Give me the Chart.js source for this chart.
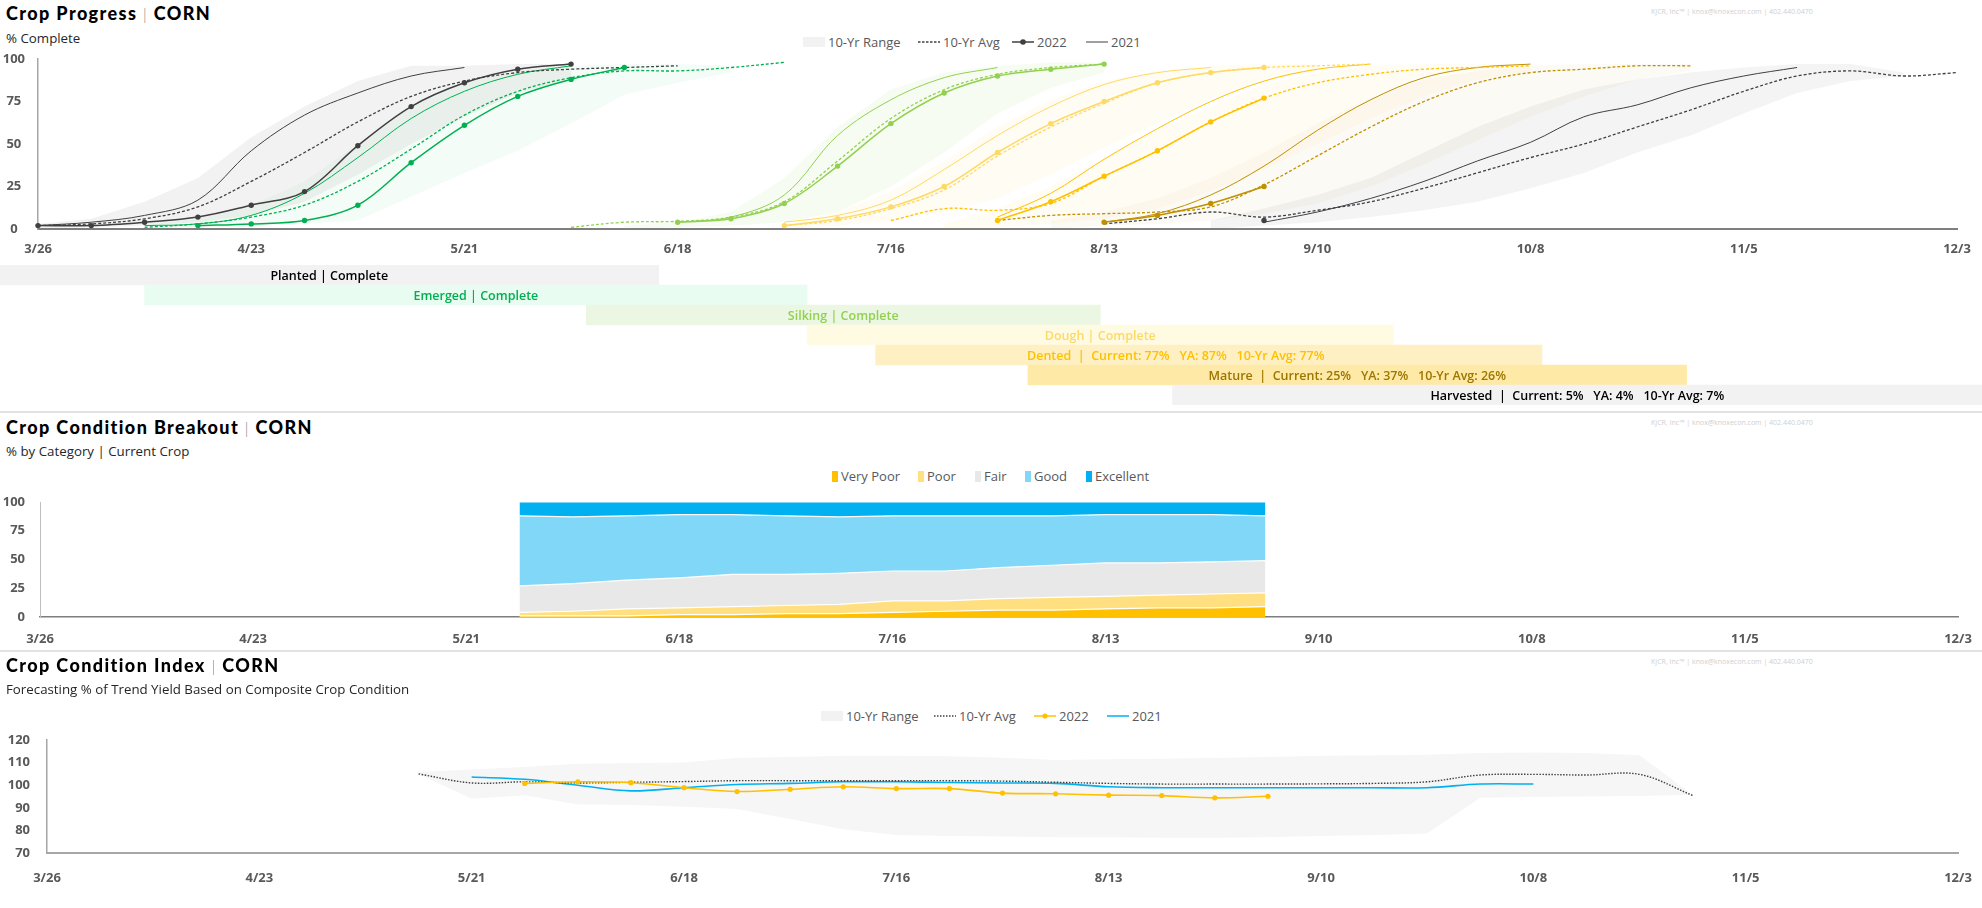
<!DOCTYPE html>
<html>
<head>
<meta charset="utf-8">
<script src="https://cdn.jsdelivr.net/npm/chart.js@4.4.1/dist/chart.umd.min.js"></script>
<style>
html, body { margin: 0; padding: 0; background: #fff; }
#page { position: relative; width: 1982px; height: 908px; overflow: hidden; font-family: "Open Sans", sans-serif; }
canvas { position: absolute; left: 0; }
.title { position: absolute; left: 6px; font-family: Lato, sans-serif; font-weight: 900; font-size: 18px; letter-spacing: 1.4px; line-height: 20px; color: #000; white-space: nowrap; }
.title .sep { font-weight: 300; color: #7f7f7f; font-size: 15px; }
.sub { position: absolute; left: 6px; font-size: 13.3px; line-height: 16px; color: #262626; white-space: nowrap; }
.mark { position: absolute; left: 1651px; font-size: 7px; line-height: 10px; color: #cfcfcf; white-space: nowrap; }
.rule { position: absolute; left: 0; width: 1982px; height: 2px; background: #e2e2e2; }
.lg { position: absolute; display: flex; align-items: center; font-size: 13px; line-height: 16px; color: #595959; white-space: nowrap; }
.lg svg { margin-right: 3px; }
</style>
</head>
<body>
<div id="page">
  <div class="title" style="top:3px">Crop Progress <span class="sep">|</span> CORN</div>
  <div class="sub" style="top:30px">% Complete</div>
  <div class="mark" style="top:7px">KJCR, Inc™ | knox@knoxecon.com | 402.440.0470</div>

  <div class="lg" style="left:803px;top:34px"><svg width="22" height="10"><rect width="22" height="10" fill="#f2f2f2"/></svg>10-Yr Range</div>
  <div class="lg" style="left:918px;top:34px"><svg width="22" height="4"><line x1="0" y1="2" x2="22" y2="2" stroke="#404040" stroke-width="1.3" stroke-dasharray="2.5,1.5"/></svg>10-Yr Avg</div>
  <div class="lg" style="left:1012px;top:34px"><svg width="22" height="8"><line x1="0" y1="4" x2="22" y2="4" stroke="#404040" stroke-width="1.5"/><circle cx="11" cy="4" r="2.8" fill="#404040"/></svg>2022</div>
  <div class="lg" style="left:1086px;top:34px"><svg width="22" height="4"><line x1="0" y1="2" x2="22" y2="2" stroke="#404040" stroke-width="1"/></svg>2021</div>

  <canvas id="progress" width="1982" height="222" style="top:45px;width:1982px;height:222px"></canvas>
  <canvas id="phases" width="1982" height="140" style="top:265px;width:1982px;height:140px"></canvas>

  <div class="rule" style="top:411px"></div>
  <div class="title" style="top:417px">Crop Condition Breakout <span class="sep">|</span> CORN</div>
  <div class="sub" style="top:443px">% by Category | Current Crop</div>
  <div class="mark" style="top:418px">KJCR, Inc™ | knox@knoxecon.com | 402.440.0470</div>

  <div class="lg" style="left:832px;top:468px"><svg width="6" height="11"><rect width="6" height="11" fill="#ffc000"/></svg>Very Poor</div>
  <div class="lg" style="left:918px;top:468px"><svg width="6" height="11"><rect width="6" height="11" fill="#ffdf80"/></svg>Poor</div>
  <div class="lg" style="left:975px;top:468px"><svg width="6" height="11"><rect width="6" height="11" fill="#e8e8e8"/></svg>Fair</div>
  <div class="lg" style="left:1025px;top:468px"><svg width="6" height="11"><rect width="6" height="11" fill="#80d7f8"/></svg>Good</div>
  <div class="lg" style="left:1086px;top:468px"><svg width="6" height="11"><rect width="6" height="11" fill="#00b0f0"/></svg>Excellent</div>

  <canvas id="condition" width="1982" height="165" style="top:490px;width:1982px;height:165px"></canvas>

  <div class="rule" style="top:650px"></div>
  <div class="title" style="top:655px">Crop Condition Index <span class="sep">|</span> CORN</div>
  <div class="sub" style="top:681px">Forecasting % of Trend Yield Based on Composite Crop Condition</div>
  <div class="mark" style="top:657px">KJCR, Inc™ | knox@knoxecon.com | 402.440.0470</div>

  <div class="lg" style="left:821px;top:708px"><svg width="22" height="10"><rect width="22" height="10" fill="#f2f2f2"/></svg>10-Yr Range</div>
  <div class="lg" style="left:934px;top:708px"><svg width="22" height="4"><line x1="0" y1="2" x2="22" y2="2" stroke="#404040" stroke-width="1.3" stroke-dasharray="1.5,1.5"/></svg>10-Yr Avg</div>
  <div class="lg" style="left:1034px;top:708px"><svg width="22" height="8"><line x1="0" y1="4" x2="22" y2="4" stroke="#ffc000" stroke-width="1.5"/><circle cx="11" cy="4" r="2.6" fill="#ffc000"/></svg>2022</div>
  <div class="lg" style="left:1107px;top:708px"><svg width="22" height="4"><line x1="0" y1="2" x2="22" y2="2" stroke="#00b0f0" stroke-width="1.5"/></svg>2021</div>

  <canvas id="index" width="1982" height="180" style="top:728px;width:1982px;height:180px"></canvas>
</div>

<script>
// x axis is days after 3/26, labelled every 4 weeks
const xTickLabels = ['3/26', '4/23', '5/21', '6/18', '7/16', '8/13', '9/10', '10/8', '11/5', '12/3'];
const progressTicks = [0, 25, 50, 75, 100];

// crop progress, % complete (weekly, first value at the start day given in the table)
const planted2022 = [2, 2, 4, 7, 14, 22, 49, 72, 86, 94, 97];
const planted2021 = [2, 4, 8, 17, 46, 67, 80, 90, 95];
const plantedAvg = [2, 3, 6, 13, 28, 45, 63, 78, 87, 92, 94, 95, 96];
const plantedLo = [0, 1, 2, 4, 8, 16, 32, 50, 66, 80, 88];
const plantedHi = [3, 6, 16, 30, 54, 72, 87, 96, 96, 97, 97];

const emerged2022 = [2, 3, 5, 14, 39, 61, 78, 88, 95];
const emerged2021 = [2, 3, 8, 21, 42, 65, 81, 91, 96];
const emergedAvg = [1, 3, 7, 14, 28, 47, 67, 81, 89, 93, 93, 95, 98];
const emergedLo = [0, 1, 2, 3, 5, 19, 33, 46, 62, 79, 86, 92];
const emergedHi = [2, 6, 14, 28, 50, 72, 86, 93, 96, 97, 97, 96];

const silking2022 = [4, 6, 15, 37, 62, 80, 90, 94, 97];
const silking2021 = [4, 7, 20, 55, 76, 89, 95];
const silkingAvg = [1, 4, 4.5, 7, 16, 40, 65, 82, 91, 95, 97];
const silkingLo = [0, 1, 2, 4, 10, 25, 45, 68, 83, 92];
const silkingHi = [2, 4, 10, 30, 60, 82, 92, 96, 98, 98];

const dough2022 = [2, 6, 13, 25, 45, 62, 75, 86, 92, 95];
const dough2021 = [4, 8, 17, 35, 55, 72, 85, 92, 95];
const doughAvg = [2, 5, 12, 23, 43, 60, 74, 86, 92, 95, 96, 97];
const doughLo = [0, 2, 5, 10, 18, 32, 48, 62, 77, 87, 93];
const doughHi = [3, 10, 22, 40, 60, 76, 87, 93, 96, 97, 97];

const dented2022 = [5, 16, 31, 46, 63, 77];
const dented2021 = [7, 21, 41, 59, 75, 87, 94, 97];
const dentedAvg = [5, 12, 11, 15, 31, 46, 63, 77, 86, 91, 94, 95, 96];
const dentedLo = [0, 1, 3, 6, 12, 22, 35, 50, 65, 78, 88, 93];
const dentedHi = [3, 12, 25, 42, 58, 72, 85, 92, 96, 97, 97, 97];

const mature2022 = [4, 8, 15, 25];
const mature2021 = [4, 9, 20, 37, 58, 76, 89, 95, 97];
const matureAvg = [5, 8, 9, 10, 13, 26, 43, 60, 75, 86, 92, 94, 96, 96];
const matureLo = [0, 2, 3, 5, 9, 15, 25, 38, 52, 66, 78, 88, 93];
const matureHi = [5, 10, 18, 30, 45, 62, 77, 88, 93, 96, 97, 97, 97];

const harvested2022 = [5];
const harvested2021 = [4, 10, 18, 28, 40, 51, 66, 73, 83, 90, 95];
const harvestedAvg = [3, 6, 10, 7, 11, 16, 24, 33, 42, 50, 60, 70, 81, 90, 93, 90, 92];
const harvestedLo = [0, 2, 4, 7, 11, 16, 24, 33, 45, 55, 68, 80, 87, 90];
const harvestedHi = [5, 12, 20, 30, 45, 60, 72, 82, 88, 92, 95, 97, 97, 92];

// phase status strip: span in days, label note
const phaseNames = ['Planted', 'Emerged', 'Silking', 'Dough', 'Dented', 'Mature', 'Harvested'];
const phaseSpans = [[-5, 81.5], [14, 101], [72, 139.5], [101, 178], [110, 197.5], [130, 216.5], [149, 255.3]];
const phaseNotes = ['Complete', 'Complete', 'Complete', 'Complete',
    'Current: 77%   YA: 87%   10-Yr Avg: 77%',
    'Current: 25%   YA: 37%   10-Yr Avg: 26%',
    'Current: 5%   YA: 4%   10-Yr Avg: 7%'];

// condition breakout, % by category, weekly from day 63
const conditionStart = 63;
const veryPoor = [1, 1, 1, 2, 2, 3, 3, 4, 5, 6, 6, 7, 8, 8, 9];
const poor = [3, 4, 6, 6, 7, 7, 8, 10, 9, 10, 11, 11, 11, 12, 12];
const fair = [23, 24, 25, 26, 28, 27, 27, 26, 26, 27, 28, 29, 28, 28, 28];
const good = [61, 58, 56, 55, 52, 51, 49, 48, 48, 45, 43, 42, 42, 41, 39];
const excellent = [12, 13, 12, 11, 11, 12, 13, 12, 12, 12, 12, 11, 11, 11, 12];
const conditionTicks = [0, 25, 50, 75, 100];

// condition index, % of trend yield
const index2022Start = 63;
const index2022 = [100.8, 101.5, 101.1, 98.9, 97.2, 98.2, 99.3, 98.5, 98.5, 96.5, 96.2, 95.6, 95.4, 94.4, 95.1];
const index2021Start = 56;
const index2021 = [103.6, 102.6, 100, 97.5, 98.9, 100.3, 100.8, 101.5, 101.5, 101.2, 101, 100.8, 99.3, 98.9, 98.9, 98.9, 98.9, 98.9, 98.9, 100.5, 100.5];
const indexAvgStart = 49;
const indexAvg = [105, 101, 101.5, 101, 101.3, 101.6, 102, 102, 102, 102, 102, 101.8, 101.3, 100.8, 100.5, 100.5, 100.5, 100.6, 100.8, 101.5, 104.5, 104.8, 104.5, 104.8, 95.5];
const indexLo = [105, 94, 95.5, 91.5, 91.2, 90.5, 89.5, 85, 80.5, 78, 77.5, 77.3, 77, 77, 76.8, 76.8, 77, 77.5, 78, 78.6, 94.5, 94.8, 95, 95.2, 95.8];
const indexHi = [105.8, 107, 108, 109.5, 109.8, 110, 112, 112.5, 113, 113, 112.8, 112.2, 111.2, 111.5, 111.7, 112, 112.5, 113, 113.2, 113.5, 114.3, 114.5, 114.2, 113.3, 95.8];
const indexTicks = [70, 80, 90, 100, 110, 120];

const pts = (start, vals) => vals.map((v, i) => ({ x: start + 7 * i, y: v }));

const phases = [
    { color: '#404040', band: 'rgba(128,128,128,0.10)', cur: [0, planted2022], ya: [0, planted2021], avg: [0, plantedAvg], lo: [0, plantedLo], hi: [0, plantedHi] },
    { color: '#00b050', band: 'rgba(0,176,80,0.045)', cur: [21, emerged2022], ya: [14, emerged2021], avg: [14, emergedAvg], lo: [14, emergedLo], hi: [14, emergedHi] },
    { color: '#92d050', band: 'rgba(146,208,80,0.07)', cur: [84, silking2022], ya: [84, silking2021], avg: [70, silkingAvg], lo: [77, silkingLo], hi: [77, silkingHi] },
    { color: '#ffd966', band: 'rgba(255,217,102,0.08)', cur: [98, dough2022], ya: [98, dough2021], avg: [98, doughAvg], lo: [98, doughLo], hi: [98, doughHi] },
    { color: '#ffc000', band: 'rgba(255,192,0,0.045)', cur: [126, dented2022], ya: [126, dented2021], avg: [112, dentedAvg], lo: [119, dentedLo], hi: [119, dentedHi] },
    { color: '#bf9000', band: 'rgba(191,144,0,0.045)', cur: [140, mature2022], ya: [140, mature2021], avg: [126, matureAvg], lo: [133, matureLo], hi: [133, matureHi] },
    { color: '#404040', band: 'rgba(128,128,128,0.085)', cur: [161, harvested2022], ya: [161, harvested2021], avg: [140, harvestedAvg], lo: [154, harvestedLo], hi: [154, harvestedHi] }
];
const phaseBarColors = ['#f2f2f2', '#e9fcf1', '#ebf7e2', '#fffbe3', '#fff0c4', '#ffe9a6', '#f2f2f2'];
const phaseTextColors = ['#000000', '#00b050', '#92d050', '#ffd966', '#ffc000', '#9c7600', '#000000'];
const phaseTextShift = [0, 0, 0, 0, -33, 0, 0];

Chart.defaults.font.family = '"Open Sans", sans-serif';
Chart.defaults.animation = false;

const tickFont = { size: 13, weight: 'bold' };

// the gap between axis and labels is an invisible tick mark, so it does not
// widen the chart's own padding the way ticks.padding does
const gapGrid = gap => ({ display: true, drawOnChartArea: false, drawTicks: true, tickLength: gap, tickColor: 'rgba(0,0,0,0)' });

function xAxis(height, gap, borderColor, borderWidth) {
    return {
        type: 'linear', min: 0, max: 252,
        grid: gapGrid(gap),
        border: { color: borderColor, width: borderWidth },
        ticks: {
            stepSize: 28, autoSkip: false, maxRotation: 0, padding: 0,
            color: '#595959', font: tickFont,
            callback: v => xTickLabels[v / 28]
        },
        afterFit: s => { s.height = height; }
    };
}

function yAxis(ticks, width, gap, align, borderColor, borderWidth) {
    return {
        min: ticks[0], max: ticks[ticks.length - 1],
        grid: gapGrid(gap),
        border: { color: borderColor, width: borderWidth },
        afterBuildTicks: s => { s.ticks = ticks.map(v => ({ value: v })); },
        ticks: { padding: 0, crossAlign: align, color: '#595959', font: tickFont },
        afterFit: s => { s.width = width; }
    };
}

// crop progress
const progressSets = [];
phases.forEach(p => {
    progressSets.push({ data: pts(p.lo[0], p.lo[1]), borderWidth: 0, pointRadius: 0, fill: false, tension: 0, order: 3 });
    progressSets.push({ data: pts(p.hi[0], p.hi[1]), borderWidth: 0, pointRadius: 0, fill: '-1', backgroundColor: p.band, tension: 0, order: 3 });
    progressSets.push({ data: pts(p.avg[0], p.avg[1]), borderColor: p.color, borderWidth: 1.3, borderDash: [3, 2], pointRadius: 0, tension: 0.35, order: 1 });
    progressSets.push({ data: pts(p.ya[0], p.ya[1]), borderColor: p.color, borderWidth: 1, pointRadius: 0, tension: 0.35, order: 1 });
    progressSets.push({ data: pts(p.cur[0], p.cur[1]), borderColor: p.color, borderWidth: 1.5, pointRadius: 2.7, pointBorderWidth: 0, pointBackgroundColor: p.color, tension: 0.35, order: 0 });
});

new Chart(document.getElementById('progress'), {
    type: 'line',
    data: { datasets: progressSets },
    options: {
        responsive: false,
        clip: 8,
        layout: { padding: { left: 0, right: 25, top: 14, bottom: 0 } },
        plugins: { legend: { display: false }, tooltip: { enabled: false } },
        scales: {
            x: xAxis(38, 12, '#7f7f7f', 2),
            y: yAxis(progressTicks, 38, 13, 'center', '#a6a6a6', 1.5)
        }
    }
});

// phase strip
const barText = {
    id: 'barText',
    afterDatasetsDraw(chart) {
        const ctx = chart.ctx;
        chart.getDatasetMeta(0).data.forEach((bar, i) => {
            const sep = phaseNotes[i] === 'Complete' ? ' | ' : '  |  ';
            ctx.save();
            ctx.font = '600 12.5px "Open Sans"';
            ctx.fillStyle = phaseTextColors[i];
            ctx.textAlign = 'center';
            ctx.textBaseline = 'middle';
            ctx.fillText(phaseNames[i] + sep + phaseNotes[i], (bar.x + bar.base) / 2 + phaseTextShift[i], bar.y + 1);
            ctx.restore();
        });
    }
};

new Chart(document.getElementById('phases'), {
    type: 'bar',
    data: {
        labels: phaseNames,
        datasets: [{
            data: phaseSpans,
            backgroundColor: phaseBarColors,
            borderWidth: 0,
            barPercentage: 1,
            categoryPercentage: 1
        }]
    },
    options: {
        responsive: false,
        indexAxis: 'y',
        layout: { padding: 0 },
        plugins: { legend: { display: false }, tooltip: { enabled: false } },
        scales: {
            x: { type: 'linear', min: -4.99, max: 255.29, display: false },
            y: { display: false }
        }
    },
    plugins: [barText]
});

// condition breakout
const condSeries = [
    { vals: veryPoor, color: '#ffc000' },
    { vals: poor, color: '#ffdf80' },
    { vals: fair, color: '#e8e8e8' },
    { vals: good, color: '#80d7f8' },
    { vals: excellent, color: '#00b0f0' }
];

new Chart(document.getElementById('condition'), {
    type: 'line',
    data: {
        datasets: condSeries.map((s, i) => ({
            data: pts(conditionStart, s.vals),
            backgroundColor: s.color,
            borderColor: '#ffffff',
            borderWidth: 1.2,
            pointRadius: 0,
            tension: 0,
            fill: i === 0 ? 'origin' : '-1'
        }))
    },
    options: {
        responsive: false,
        layout: { padding: { left: 0, right: 24, top: 12, bottom: 0 } },
        plugins: { legend: { display: false }, tooltip: { enabled: false } },
        scales: {
            x: xAxis(38, 14, '#7f7f7f', 1.5),
            y: Object.assign(yAxis(conditionTicks, 40, 15, 'near', '#bfbfbf', 1), { stacked: true })
        }
    }
});

// condition index
new Chart(document.getElementById('index'), {
    type: 'line',
    data: {
        datasets: [
            { data: pts(indexAvgStart, indexLo), borderWidth: 0, pointRadius: 0, fill: false, tension: 0, order: 3 },
            { data: pts(indexAvgStart, indexHi), borderWidth: 0, pointRadius: 0, fill: '-1', backgroundColor: '#f6f6f6', tension: 0, order: 3 },
            { data: pts(indexAvgStart, indexAvg), borderColor: '#404040', borderWidth: 1.4, borderDash: [1.5, 1.5], pointRadius: 0, tension: 0.35, order: 1 },
            { data: pts(index2021Start, index2021), borderColor: '#00b0f0', borderWidth: 1.6, pointRadius: 0, tension: 0.35, order: 1 },
            { data: pts(index2022Start, index2022), borderColor: '#ffc000', borderWidth: 1.6, pointRadius: 2.6, pointBorderWidth: 0, pointBackgroundColor: '#ffc000', tension: 0.35, order: 0 }
        ]
    },
    options: {
        responsive: false,
        layout: { padding: { left: 0, right: 24, top: 12, bottom: 0 } },
        plugins: { legend: { display: false }, tooltip: { enabled: false } },
        scales: {
            x: xAxis(55, 17, '#a6a6a6', 2),
            y: yAxis(indexTicks, 47, 17, 'near', '#a6a6a6', 1.5)
        }
    }
});
</script>
</body>
</html>
